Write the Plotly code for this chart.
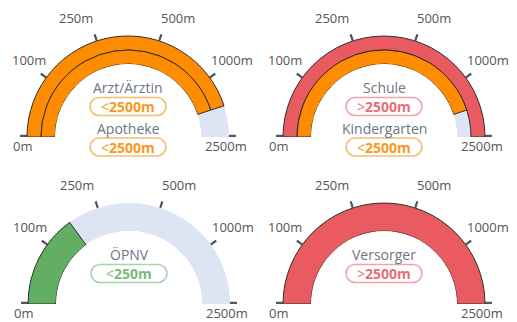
import numpy as np
import plotly.graph_objects as go

# ---------------- data ----------------
TICK_VALUES = [0, 100, 250, 500, 1000, 2500]
TICK_LABELS = ["0m", "100m", "250m", "500m", "1000m", "2500m"]

CATEGORIES = ["Arzt/Ärztin", "Apotheke", "Schule", "Kindergarten", "ÖPNV", "Versorger"]
DISTANCES = [1750, 1750, 2500, 1750, 175, 2500]
STATUS = ["<2500m", "<2500m", ">2500m", "<2500m", "<250m", ">2500m"]
PANEL_OF = [0, 0, 1, 1, 2, 3]

# ---------------- style ----------------
W, H = 517, 322
CENTERS = [(128, 137), (384, 137), (129, 304), (384, 304)]
R_IN, R_BAND, R_TICK = 73, 101, 108   # pixel radii: hole edge, band outer edge, tick end
BAND_MAX = 2.0                          # radial units used by the bands
TICK_MAX = BAND_MAX * (R_TICK - R_IN) / (R_BAND - R_IN)
FONT = "Open Sans"

BAND_COLOR = {"<250m": "#62AE62", "<2500m": "#FF8C00", ">2500m": "#E95B61"}
PILL_TEXT = {"<250m": "#79BC79", "<2500m": "#F59A1E", ">2500m": "#E86F76"}
PILL_LINE = {"<250m": "#A6D4A6", "<2500m": "#F6BD6C", ">2500m": "#EEA3A8"}
TRACK = "#DDE4F4"
OUTLINE = "#2e2e2e"
TICK_COLOR = "#4d5566"
TICK_PX = 2.2

LABEL_OFFSETS = [(-106, 9), (-99, -77), (-52, -119), (50, -119), (104, -77), (98, 9)]
TITLE_DY = [-50, -8.5]
PILL_DY = [-30.5, 10]
PILL_W, PILL_H = 76, 18

TICK_ANGLES = np.linspace(0, 180, len(TICK_VALUES))


def to_theta(v):
    return float(np.interp(v, TICK_VALUES, TICK_ANGLES))


def px(x, y):
    return x / W, 1 - y / H


def pill_path(w, h):
    r = h / 2
    k = 0.5523 * r
    a = w / 2 - r
    hw = w / 2
    return (f"M {-a},{r} L {a},{r} C {a + k},{r} {hw},{k} {hw},0 "
            f"C {hw},{-k} {a + k},{-r} {a},{-r} L {-a},{-r} "
            f"C {-a - k},{-r} {-hw},{-k} {-hw},0 C {-hw},{k} {-a - k},{r} {-a},{r} Z")


fig = go.Figure()
annotations = []
shapes = []
layout_polars = {}

tick_w = np.degrees(TICK_PX / ((R_BAND + R_TICK) / 2))
tick_thetas = [min(max(to_theta(v), tick_w / 2), 180 - tick_w / 2) for v in TICK_VALUES]

for p, (cx, cy) in enumerate(CENTERS):
    key = "polar" if p == 0 else f"polar{p + 1}"
    idx = [i for i, q in enumerate(PANEL_OF) if q == p]
    n = len(idx)

    # background track
    fig.add_trace(go.Barpolar(
        r=[BAND_MAX], base=[0], theta=[90], width=[180],
        marker=dict(color=TRACK, line=dict(width=0)),
        subplot=key, hoverinfo="skip", showlegend=False))

    # tick marks
    fig.add_trace(go.Barpolar(
        r=[TICK_MAX - BAND_MAX] * len(TICK_VALUES), base=[BAND_MAX] * len(TICK_VALUES),
        theta=tick_thetas, width=[tick_w] * len(TICK_VALUES),
        marker=dict(color=TICK_COLOR, line=dict(width=0)),
        subplot=key, hoverinfo="skip", showlegend=False))

    for j, i in enumerate(idx):
        th = to_theta(DISTANCES[i])
        thick = BAND_MAX / n
        fig.add_trace(go.Barpolar(
            r=[thick], base=[BAND_MAX - (j + 1) * thick], theta=[th / 2], width=[th],
            marker=dict(color=BAND_COLOR[STATUS[i]], line=dict(color=OUTLINE, width=1)),
            subplot=key, name=CATEGORIES[i], showlegend=False))

        # title + pill
        tx, ty = px(cx, cy + TITLE_DY[j])
        annotations.append(dict(x=tx, y=ty, xref="paper", yref="paper", text=CATEGORIES[i],
                                showarrow=False, xanchor="center", yanchor="middle",
                                font=dict(family=FONT, size=14, color="#6E7583")))
        pxx, pyy = px(cx, cy + PILL_DY[j])
        shapes.append(dict(type="path", path=pill_path(PILL_W, PILL_H),
                           xref="paper", yref="paper", xsizemode="pixel", ysizemode="pixel",
                           xanchor=pxx, yanchor=pyy, fillcolor="white",
                           line=dict(color=PILL_LINE[STATUS[i]], width=1.6), layer="above"))
        s = STATUS[i]
        sym = "&lt;" if s.startswith("<") else "&gt;"
        annotations.append(dict(x=pxx, y=pyy, xref="paper", yref="paper",
                                text=f"{sym}<b>{s[1:]}</b>", showarrow=False,
                                xanchor="center", yanchor="middle",
                                font=dict(family=FONT, size=14, color=PILL_TEXT[s])))

    # tick labels
    for lab, (dx, dy) in zip(TICK_LABELS, LABEL_OFFSETS):
        lx, ly = px(cx + dx, cy + dy)
        annotations.append(dict(x=lx, y=ly, xref="paper", yref="paper", text=lab,
                                showarrow=False, xanchor="center", yanchor="middle",
                                font=dict(family=FONT, size=13, color="#555555")))

    x0, y1 = px(cx - R_TICK, cy - R_TICK)
    x1, y0 = px(cx + R_TICK, cy)
    layout_polars[key] = dict(
        domain=dict(x=[x0, x1], y=[y0, y1]),
        sector=[0, 180],
        hole=R_IN / R_TICK,
        bgcolor="rgba(0,0,0,0)",
        radialaxis=dict(visible=False, range=[0, TICK_MAX]),
        angularaxis=dict(
            rotation=180, direction="clockwise", thetaunit="degrees",
            showticklabels=False, ticks="", showline=False, showgrid=False),
    )

fig.update_layout(
    width=W, height=H,
    margin=dict(l=0, r=0, t=0, b=0),
    paper_bgcolor="white", plot_bgcolor="white",
    annotations=annotations, shapes=shapes,
    showlegend=False,
    **layout_polars,
)

fig.write_html("out.html")
